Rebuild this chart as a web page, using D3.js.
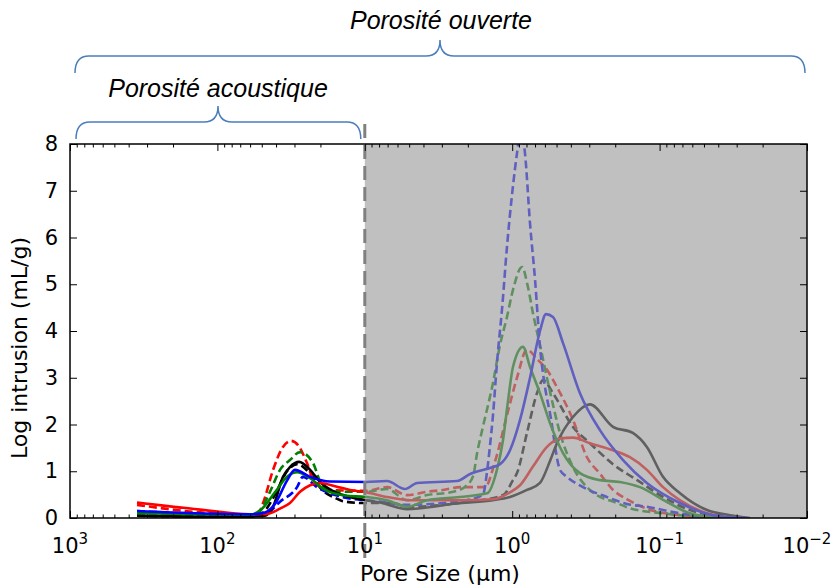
<!DOCTYPE html>
<html><head><meta charset="utf-8">
<script src="https://cdn.jsdelivr.net/npm/d3@7"></script>
<style>body{margin:0;background:#fff}svg{display:block}</style></head>
<body><svg id="c" width="831" height="588"></svg>
<script>
// ---- data (pore size in µm, log intrusion in mL/g) ----
const xTickExps = [3, 2, 1, 0, -1, -2];
const yTickValues = [0, 1, 2, 3, 4, 5, 6, 7, 8];
const acousticLimit = 10; // µm

const blueSolidSize = [351,131,60.1,47.5,40.7,33.7,29.8,23.5,17.2,9.81,7.07,5.34,4.42,2.37,1.93,1.35,1.21,1.035,0.885,0.757,0.648,0.59,0.529,0.452,0.347,0.254,0.177,0.122,0.0727,0.0434,0.0255];
const blueSolidVal  = [0.15,0.10,0.08,0.12,0.30,0.80,1.03,0.88,0.78,0.77,0.79,0.62,0.75,0.79,0.94,1.09,1.15,1.45,2.10,3.00,4.00,4.36,4.30,3.74,2.67,1.88,1.24,0.75,0.32,0.06,0.00];

const blueDashedSize = [351,131,60.1,47.5,37.6,28.8,26.3,21.1,15.9,11.65,9.81,7.88,5.34,2.95,2.03,1.58,1.48,1.42,1.35,1.27,1.17,1.085,0.988,0.928,0.872,0.819,0.757,0.700,0.648,0.599,0.554,0.474,0.425,0.331,0.228,0.166,0.122,0.0727,0.0434,0.0285];
const blueDashedVal  = [0.15,0.08,0.05,0.08,0.35,0.66,0.88,0.66,0.49,0.40,0.38,0.35,0.28,0.32,0.38,0.50,1.00,1.50,2.20,3.30,4.50,5.80,7.10,7.80,8.30,7.80,6.30,5.10,3.66,2.80,2.24,1.03,0.88,0.66,0.45,0.30,0.24,0.10,0.02,0.00];

const greenSolidSize = [351,131,60.1,49.8,40.7,33.2,28.8,23.5,18.6,13.6,9.81,7.07,5.17,3.78,2.26,1.48,1.27,1.154,1.068,0.988,0.845,0.757,0.648,0.554,0.452,0.347,0.254,0.186,0.136,0.0891,0.0622,0.0389];
const greenSolidVal  = [0.10,0.08,0.07,0.20,0.55,0.90,0.98,0.85,0.60,0.48,0.45,0.38,0.24,0.38,0.45,0.53,1.03,1.67,2.50,3.23,3.66,3.23,2.67,2.03,1.39,0.96,0.81,0.77,0.66,0.34,0.10,0.00];

const greenDashedSize = [351,131,60.1,53.0,44.0,37.6,32.2,27.5,22.5,19.2,15.4,9.81,7.07,5.17,3.78,2.52,2.03,1.84,1.73,1.58,1.35,1.21,1.085,0.988,0.858,0.782,0.723,0.648,0.554,0.474,0.387,0.297,0.195,0.159,0.0948,0.0557,0.0389];
const greenDashedVal  = [0.10,0.05,0.05,0.10,0.56,1.03,1.24,1.41,1.18,0.66,0.56,0.56,0.62,0.38,0.49,0.56,0.70,0.90,1.39,1.95,2.89,3.70,4.30,4.88,5.37,4.94,4.38,3.70,2.70,1.82,1.09,0.60,0.32,0.21,0.10,0.03,0.00];

const redSolidSize = [351,131,60.1,47.5,37.6,32.2,27.5,23.5,20.1,15.9,12.6,9.81,7.07,4.94,2.26,1.35,1.035,0.885,0.723,0.581,0.474,0.387,0.297,0.207,0.159,0.122,0.0948,0.0727,0.0477,0.0318];
const redSolidVal  = [0.33,0.18,0.08,0.08,0.20,0.32,0.56,0.70,0.75,0.68,0.60,0.55,0.45,0.38,0.38,0.40,0.55,0.70,1.10,1.52,1.70,1.72,1.60,1.45,1.30,1.03,0.66,0.38,0.10,0.00];

const redDashedSize = [351,131,60.1,53.0,49.0,41.9,35.9,31.7,28.4,24.7,21.8,17.2,9.81,7.07,5.17,3.78,2.95,2.26,1.53,1.31,1.085,0.928,0.794,0.679,0.581,0.497,0.387,0.311,0.254,0.207,0.166,0.122,0.0727,0.0455];
const redDashedVal  = [0.28,0.12,0.07,0.10,0.32,1.03,1.52,1.65,1.56,1.18,0.75,0.60,0.58,0.66,0.49,0.56,0.60,0.66,0.66,1.20,2.20,3.00,3.60,3.40,3.17,2.80,2.10,1.30,0.95,0.60,0.40,0.20,0.06,0.00];

const blackSolidSize = [351,131,60.1,47.5,41.9,35.9,32.2,27.9,23.5,20.1,15.9,12.6,9.81,7.88,5.17,2.26,1.35,1.035,0.794,0.648,0.554,0.497,0.387,0.297,0.207,0.152,0.122,0.0948,0.0727,0.0477,0.0333,0.0244];
const blackSolidVal  = [0.05,0.03,0.03,0.05,0.24,0.88,1.09,1.20,1.03,0.77,0.55,0.45,0.38,0.33,0.19,0.32,0.38,0.45,0.60,0.75,1.22,1.60,2.16,2.43,1.95,1.82,1.52,0.88,0.53,0.17,0.06,0.00];

const blackDashedSize = [351,131,60.1,49.8,40.7,33.7,28.8,23.5,19.5,15.9,14.1,10.3,6.44,5.17,2.26,1.154,0.988,0.928,0.794,0.679,0.618,0.529,0.387,0.297,0.207,0.142,0.0948,0.0622,0.0434,0.0333];
const blackDashedVal  = [0.05,0.03,0.03,0.10,0.50,1.00,1.15,0.95,0.60,0.43,0.36,0.32,0.32,0.24,0.32,0.49,0.81,0.96,1.82,2.67,2.95,2.67,1.95,1.60,1.15,0.81,0.45,0.17,0.05,0.00];

const series = [
  {size: blackDashedSize, val: blackDashedVal, color: "#000000", dash: true},
  {size: redDashedSize,   val: redDashedVal,   color: "#ff0000", dash: true},
  {size: greenDashedSize, val: greenDashedVal, color: "#008000", dash: true},
  {size: blueDashedSize,  val: blueDashedVal,  color: "#0000ff", dash: true},
  {size: blackSolidSize,  val: blackSolidVal,  color: "#000000", dash: false},
  {size: redSolidSize,    val: redSolidVal,    color: "#ff0000", dash: false},
  {size: greenSolidSize,  val: greenSolidVal,  color: "#008000", dash: false},
  {size: blueSolidSize,   val: blueSolidVal,   color: "#0000ff", dash: false}
];

// ---- layout ----
const L = 70, R = 807, T = 144, B = 518;
const x = d3.scaleLog().domain([1000, 0.01]).range([L, R]);
const y = d3.scaleLinear().domain([0, 8]).range([B, T]);
const svg = d3.select("#c");
const tickFont = "'DejaVu Sans', sans-serif";

svg.append("defs").append("clipPath").attr("id", "clip")
  .append("rect").attr("x", L).attr("y", T).attr("width", R - L).attr("height", B - T);

const g = svg.append("g").attr("clip-path", "url(#clip)");
const line = d3.line().x(d => x(d[0])).y(d => y(d[1])).curve(d3.curveMonotoneX);
series.forEach(s => {
  const pts = s.size.map((d, i) => [d, s.val[i]]).sort((a, b) => b[0] - a[0]);
  g.append("path").datum(pts).attr("d", line)
    .attr("fill", "none").attr("stroke", s.color).attr("stroke-width", 2.6)
    .attr("stroke-linejoin", "round")
    .attr("stroke-dasharray", s.dash ? "8,4" : null);
});

// grey overlay over the open-porosity-only region
svg.append("rect").attr("x", x(acousticLimit)).attr("y", T)
  .attr("width", R - x(acousticLimit)).attr("height", B - T)
  .attr("fill", "rgb(154,154,154)").attr("fill-opacity", 0.624);

// vertical dashed separator
svg.append("line").attr("x1", x(acousticLimit)).attr("x2", x(acousticLimit))
  .attr("y1", 124).attr("y2", 562)
  .attr("stroke", "#808080").attr("stroke-width", 3).attr("stroke-dasharray", "14,7");

// ticks
const majors = xTickExps.map(e => Math.pow(10, e));
const minors = [];
for (let e = -2; e < 3; e++) for (let k = 2; k <= 9; k++) minors.push(k * Math.pow(10, e));

function styleAxis(sel) {
  sel.select(".domain").remove();
  sel.selectAll(".tick line").attr("stroke", "#000").attr("stroke-width", 1);
}
svg.append("g").attr("transform", `translate(0,${B})`)
  .call(d3.axisBottom(x).tickValues(majors).tickSize(-7).tickFormat("")).call(styleAxis);
svg.append("g").attr("transform", `translate(0,${B})`)
  .call(d3.axisBottom(x).tickValues(minors).tickSize(-3.5).tickFormat("")).call(styleAxis);
svg.append("g").attr("transform", `translate(0,${T})`)
  .call(d3.axisTop(x).tickValues(majors).tickSize(-7).tickFormat("")).call(styleAxis);
svg.append("g").attr("transform", `translate(0,${T})`)
  .call(d3.axisTop(x).tickValues(minors).tickSize(-3.5).tickFormat("")).call(styleAxis);
const yl = svg.append("g").attr("transform", `translate(${L},0)`)
  .call(d3.axisLeft(y).tickValues(yTickValues).tickSize(-7).tickPadding(12).tickFormat(d3.format("d")))
  .call(styleAxis);
yl.selectAll("text").attr("font-family", tickFont).attr("font-size", 21).attr("fill", "#000");
svg.append("g").attr("transform", `translate(${R},0)`)
  .call(d3.axisRight(y).tickValues(yTickValues).tickSize(-7).tickFormat("")).call(styleAxis);

// frame
svg.append("rect").attr("x", L).attr("y", T).attr("width", R - L).attr("height", B - T)
  .attr("fill", "none").attr("stroke", "#000").attr("stroke-width", 1.5);

// x tick labels with superscripts
xTickExps.forEach(e => {
  const t = svg.append("text").attr("x", x(Math.pow(10, e))).attr("y", 553)
    .attr("text-anchor", "middle").attr("font-family", tickFont).attr("font-size", 21).attr("fill", "#000");
  t.append("tspan").text("10");
  t.append("tspan").attr("dy", -9).attr("font-size", 15).text(e < 0 ? "\u2212" + (-e) : String(e));
});

// axis titles
svg.append("text").attr("x", 440).attr("y", 581).attr("text-anchor", "middle")
  .attr("font-family", tickFont).attr("font-size", 22).attr("fill", "#000").text("Pore Size (µm)");
svg.append("text").attr("transform", "translate(27,348) rotate(-90)").attr("text-anchor", "middle")
  .attr("font-family", tickFont).attr("font-size", 22).attr("fill", "#000").text("Log intrusion (mL/g)");

// braces + annotations
function brace(x1, x2, xm, yEnd, yLine, yTip) {
  const r = 14;
  return `M${x1},${yEnd} Q${x1},${yLine} ${x1 + r},${yLine} L${xm - r},${yLine} Q${xm},${yLine} ${xm},${yTip}`
       + ` Q${xm},${yLine} ${xm + r},${yLine} L${x2 - r},${yLine} Q${x2},${yLine} ${x2},${yEnd}`;
}
const braceColor = "#4a7ebb";
svg.append("path").attr("d", brace(x(1000) + 5, R - 2, 440, 73, 56, 40))
  .attr("fill", "none").attr("stroke", braceColor).attr("stroke-width", 1.5);
svg.append("path").attr("d", brace(x(1000) + 6, x(acousticLimit) - 4, 218, 139, 122, 106))
  .attr("fill", "none").attr("stroke", braceColor).attr("stroke-width", 1.5);

const annFont = "'Liberation Sans', Arial, sans-serif";
svg.append("text").attr("x", 441).attr("y", 29).attr("text-anchor", "middle")
  .attr("font-family", annFont).attr("font-style", "italic").attr("font-size", 25).attr("fill", "#000")
  .text("Porosité ouverte");
svg.append("text").attr("x", 218).attr("y", 97).attr("text-anchor", "middle")
  .attr("font-family", annFont).attr("font-style", "italic").attr("font-size", 25).attr("fill", "#000")
  .text("Porosité acoustique");
</script></body></html>
